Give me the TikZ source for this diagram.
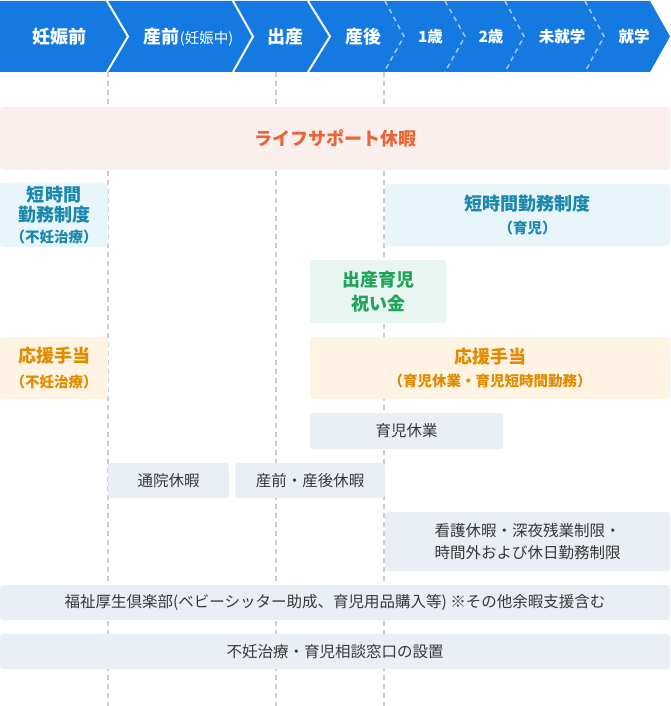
\documentclass[tikz,border=0pt]{standalone}
\usepackage{fontspec}
\setmainfont{Noto Sans CJK JP}
\definecolor{bandblue}{HTML}{1479E0}
\definecolor{guidegray}{HTML}{CCCCCC}
\definecolor{lifefill}{HTML}{FBEFED}
\definecolor{lifetext}{HTML}{EB6437}
\definecolor{shortfill}{HTML}{E8F5FB}
\definecolor{shorttext}{HTML}{1A87AD}
\definecolor{giftfill}{HTML}{E8F5F0}
\definecolor{gifttext}{HTML}{20A35C}
\definecolor{cheerfill}{HTML}{FFF4E3}
\definecolor{cheertext}{HTML}{E08B00}
\definecolor{grayfill}{HTML}{EAEEF5}
\definecolor{graytext}{HTML}{383838}
\newcommand\headfnt{\fontsize{18}{22}\selectfont\bfseries}
\newcommand\agefnt{\fontsize{15.5}{20}\selectfont\bfseries}
\newcommand\ttlfnt{\fontsize{18}{22}\selectfont\bfseries}
\newcommand\subfnt{\fontsize{14.5}{18}\selectfont\bfseries}
\newcommand\grayfnt{\fontsize{15.5}{22}\selectfont}
\tikzstyle{every node}=[inner sep=0pt,align=center]
\tikzstyle{head}=[text=white,font=\headfnt]
\tikzstyle{age}=[text=white,font=\agefnt]
\tikzstyle{sepline}=[draw=white,line width=2pt]
\tikzstyle{sepdash}=[draw=white!60!bandblue,line width=1.5pt,dash pattern=on 5pt off 4pt]
\tikzstyle{guide}=[draw=guidegray,line width=1.5pt,dash pattern=on 5pt off 4pt]
\tikzstyle{box}=[rounded corners=3pt]
\tikzstyle{lifebox}=[box,fill=lifefill,text=lifetext,font=\ttlfnt]
\tikzstyle{shortbox}=[box,fill=shortfill,text=shorttext,font=\ttlfnt]
\tikzstyle{giftbox}=[box,fill=giftfill,text=gifttext,font=\ttlfnt]
\tikzstyle{cheerbox}=[box,fill=cheerfill,text=cheertext,font=\ttlfnt]
\tikzstyle{graybox}=[box,fill=grayfill,text=graytext,font=\grayfnt]

\begin{document}
\begin{tikzpicture}[x=1pt,y=-1pt]
    \useasboundingbox (0,0) rectangle (670,706);
    % timeline band
    \fill[bandblue] (0,1) -- (650,1) -- (670,36.5) -- (650,72) -- (0,72) -- cycle;
    \draw[sepline] (107,1) -- (128,36.5) -- (107,72);
    \draw[sepline] (233,1) -- (253,36.5) -- (233,72);
    \draw[sepline] (308,1) -- (330,36.5) -- (308,72);
    \draw[sepdash] (385,1) -- (404,36.5) -- (384,72);
    \draw[sepdash] (445,1) -- (465,36.5) -- (445,72);
    \draw[sepdash] (505,1) -- (524,36.5) -- (505,72);
    \draw[sepdash] (585,1) -- (604,36.5) -- (585,72);
    \node[head] (before) at (59.5,37) {妊娠前};
    \node[head] (prenatal) at (188.5,37) {産前{\fontsize{14.5}{14}\selectfont\mdseries(妊娠中)}};
    \node[head] (birth) at (285,37) {出産};
    \node[head] (postnatal) at (363,37) {産後};
    \node[age] (age1) at (430.5,37) {1歳};
    \node[age] (age2) at (491,37) {2歳};
    \node[age] (preschool) at (562,37) {未就学};
    \node[age] (school) at (634,37) {就学};
    % guide lines
    \foreach \gx in {108,276,384}
        \draw[guide] (\gx,72) -- (\gx,706);
    % measures
    \node[lifebox,minimum width=670,minimum height=63] (life) at (335,138.5) {ライフサポート休暇};
    \node[shortbox,minimum width=108,minimum height=64] (shortA) at (54,215)
        {短時間\\[-1.7pt]勤務制度\\[-1.7pt]{\subfnt （不妊治療）}};
    \node[shortbox,minimum width=285,minimum height=62] (shortB) at (527.5,215)
        {短時間勤務制度\\[1.5pt]{\subfnt （育児）}};
    \node[giftbox,minimum width=136,minimum height=63] (gift) at (378,291.5)
        {出産育児\\[1.6pt]祝い金};
    \node[cheerbox,minimum width=108,minimum height=62] (cheerA) at (54,368)
        {応援手当\\[2.2pt]{\subfnt （不妊治療）}};
    \node[cheerbox,minimum width=360,minimum height=62] (cheerB) at (490,368)
        {応援手当\\[1.2pt]{\subfnt （育児休業・育児短時間勤務）}};
    \node[graybox,minimum width=193,minimum height=36] (leave) at (406.5,431) {育児休業};
    \node[graybox,minimum width=121,minimum height=35] (visit) at (168.5,480.5) {通院休暇};
    \node[graybox,minimum width=150,minimum height=35] (maternity) at (310,480.5) {産前・産後休暇};
    \node[graybox,minimum width=285,minimum height=59] (care) at (527.5,541.5)
        {看護休暇・深夜残業制限・\\時間外および休日勤務制限};
    \node[graybox,minimum width=670,minimum height=35] (club) at (335,602.5)
        {福祉厚生倶楽部(ベビーシッター助成、育児用品購入等)\ ※その他余暇支援含む};
    \node[graybox,minimum width=670,minimum height=35] (desk) at (335,651.5)
        {不妊治療・育児相談窓口の設置};
\end{tikzpicture}
\end{document}
